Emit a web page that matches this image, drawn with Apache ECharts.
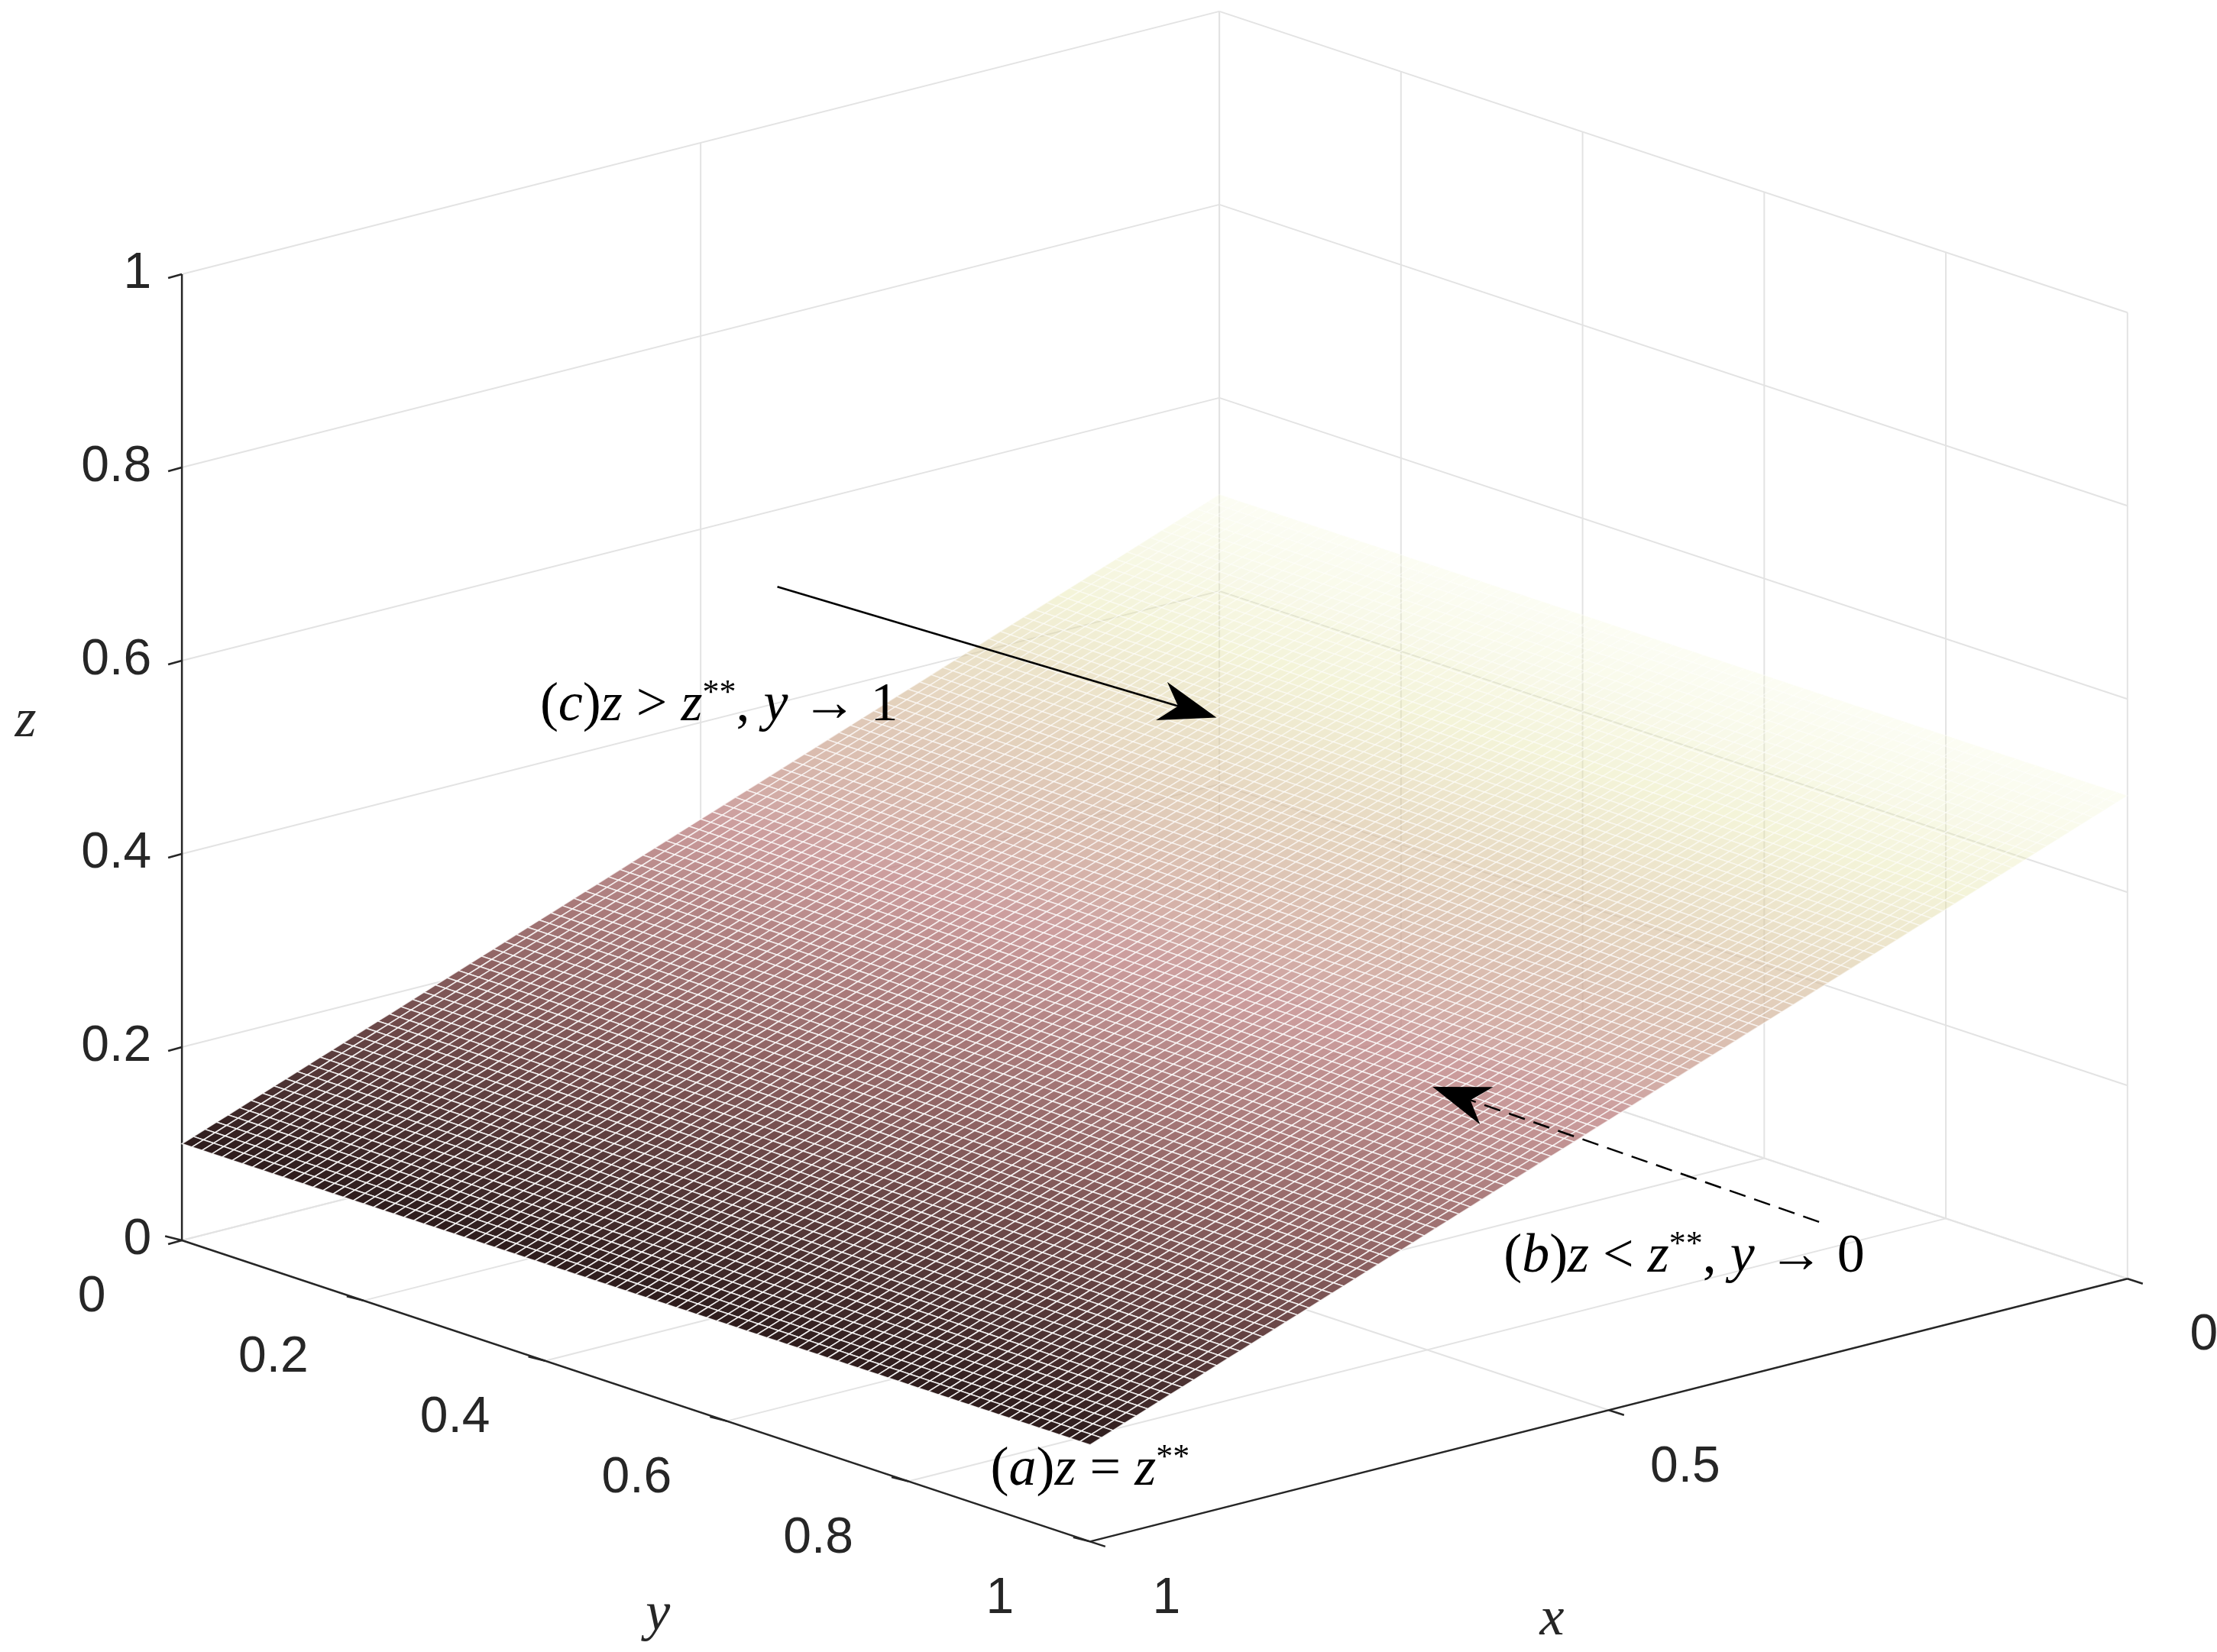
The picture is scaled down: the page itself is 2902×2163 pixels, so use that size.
<!DOCTYPE html>
<html><head><meta charset="utf-8">
<script src="https://cdn.jsdelivr.net/npm/echarts@6/dist/echarts.min.js"></script>
<style>html,body{margin:0;padding:0;background:#fff}#c{width:2902px;height:2163px}</style>
</head><body><div id="c"></div>
<script>
// ---- data ----
const xTicks = [0, 0.5, 1];
const yTicks = [0, 0.2, 0.4, 0.6, 0.8, 1];
const zTicks = [0, 0.2, 0.4, 0.6, 0.8, 1];
const xTickLabels = ['0', '0.5', '1'];
const yTickLabels = ['0', '0.2', '0.4', '0.6', '0.8', '1'];
const zTickLabels = ['0', '0.2', '0.4', '0.6', '0.8', '1'];
const surfaceX = [0, 1];        // plane end points along x
const surfaceZ = [0.5, 0.1];    // z of the plane at those x (independent of y)
const meshN = 90;

const S = 2902 / 1560;
function P(x, y, z) { return [S * (858 - 730 * x + 639 * y), S * (688 + 185 * x + 212 * y - 680 * z)]; }
function zOf(x) { return surfaceZ[0] + (surfaceZ[1] - surfaceZ[0]) * (x - surfaceX[0]) / (surfaceX[1] - surfaceX[0]); }

const cmap = [[0, [45, 28, 28]], [0.3, [140, 92, 92]], [0.5, [190, 132, 132]], [0.7, [212, 185, 150]], [0.85, [228, 228, 165]], [1, [240, 244, 200]]];
function col(t) {
  for (let i = 1; i < cmap.length; i++) if (t <= cmap[i][0]) {
    const a = cmap[i - 1], b = cmap[i], f = (t - a[0]) / (b[0] - a[0]);
    return a[1].map((v, k) => Math.round(v + (b[1][k] - v) * f));
  }
  return cmap[cmap.length - 1][1];
}

const cells = [];
for (let i = 0; i < meshN; i++) for (let j = 0; j < meshN; j++) cells.push([i, j]);

const G = [];
const gridC = '#e3e3e3', lw = 2;
function line(a, b, stroke, w, dash) { G.push({ type: 'line', shape: { x1: a[0], y1: a[1], x2: b[0], y2: b[1] }, style: { stroke: stroke, lineWidth: w, lineDash: dash || null }, z: 1 }); }
zTicks.forEach(z => { line(P(1, 0, z), P(0, 0, z), gridC, lw); line(P(0, 0, z), P(0, 1, z), gridC, lw); });
xTicks.forEach(x => { line(P(x, 0, 0), P(x, 0, 1), gridC, lw); line(P(x, 0, 0), P(x, 1, 0), gridC, lw); });
yTicks.forEach(y => { line(P(0, y, 0), P(0, y, 1), gridC, lw); line(P(0, y, 0), P(1, y, 0), gridC, lw); });
const ax = '#262626';
line(P(1, 0, 0), P(1, 0, 1), ax, 2.5);
line(P(1, 0, 0), P(1, 1, 0), ax, 2.5);
line(P(1, 1, 0), P(0, 1, 0), ax, 2.5);
const txt = [];
const tf = '66px "Liberation Sans"';
zTicks.forEach((z, i) => {
  const p = P(1, 0, z); line(p, [p[0] - 18, p[1] + 5], ax, 2.5);
  txt.push({ type: 'text', x: p[0] - 40, y: p[1], style: { text: zTickLabels[i], font: tf, fill: '#262626', align: 'right', verticalAlign: 'middle' } });
});
yTicks.forEach((y, i) => {
  const p = P(1, y, 0); line(p, [p[0] - 22, p[1] - 5.5], ax, 2.5);
  txt.push({ type: 'text', x: p[0] - 118, y: p[1] + 75, style: { text: yTickLabels[i], font: tf, fill: '#262626', align: 'center', verticalAlign: 'middle' } });
});
xTicks.forEach((x, i) => {
  const p = P(x, 1, 0); line(p, [p[0] + 20, p[1] + 6.5], ax, 2.5);
  txt.push({ type: 'text', x: p[0] + 100, y: p[1] + 75, style: { text: xTickLabels[i], font: tf, fill: '#262626', align: 'center', verticalAlign: 'middle' } });
});
const it = '72px "Liberation Serif"';
txt.push({ type: 'text', x: 18 * S, y: 508 * S, style: { text: 'z', font: 'italic ' + it, fill: '#262626', align: 'center', verticalAlign: 'middle' } });
txt.push({ type: 'text', x: 463 * S, y: 1137 * S, style: { text: 'y', font: 'italic ' + it, fill: '#262626', align: 'center', verticalAlign: 'middle' } });
txt.push({ type: 'text', x: 1092 * S, y: 1140 * S, style: { text: 'x', font: 'italic ' + it, fill: '#262626', align: 'center', verticalAlign: 'middle' } });
const rich = { n: { font: it, fill: '#000' }, i: { font: 'italic ' + it, fill: '#000' }, s: { font: '44px "Liberation Serif"', fill: '#000', verticalAlign: 'top', padding: [0, 0, 32, 0] } };
function ann(x, y, t) { txt.push({ type: 'text', x: x * S, y: y * S, style: { text: t, rich: rich, align: 'left', verticalAlign: 'middle' }, z: 20 }); }
ann(380, 497, '{n|(}{i|c}{n|)}{i|z}{n| > }{i|z}{s|**}{n|, }{i|y}{n| → 1}');
ann(1058, 885, '{n|(}{i|b}{n|)}{i|z}{n| < }{i|z}{s|**}{n|, }{i|y}{n| → 0}');
ann(697, 1035, '{n|(}{i|a}{n|)}{i|z}{n| = }{i|z}{s|**}');
function arrow(a, b, dash) {
  const A = [a[0] * S, a[1] * S], B = [b[0] * S, b[1] * S];
  const dx = B[0] - A[0], dy = B[1] - A[1], L = Math.hypot(dx, dy), ux = dx / L, uy = dy / L;
  const hl = 75, hw = 26;
  const base = [B[0] - ux * hl, B[1] - uy * hl], notch = [B[0] - ux * hl * 0.7, B[1] - uy * hl * 0.7];
  G.push({ type: 'line', shape: { x1: A[0], y1: A[1], x2: notch[0], y2: notch[1] }, style: { stroke: '#000', lineWidth: 2.5, lineDash: dash ? [22, 12] : null }, z: 20 });
  G.push({ type: 'polygon', shape: { points: [B, [base[0] - uy * hw, base[1] + ux * hw], notch, [base[0] + uy * hw, base[1] - ux * hw]] }, style: { fill: '#000' }, z: 20 });
}
arrow([547, 413], [856, 505], false);
arrow([1280, 860], [1008, 765], true);

const chart = echarts.init(document.getElementById('c'));
chart.setOption({
  animation: false,
  graphic: G.concat(txt),
  series: [{
    type: 'custom', coordinateSystem: 'none', data: cells, z: 10,
    renderItem: function (params, api) {
      const i = api.value(0), j = api.value(1);
      const x0 = i / meshN, x1 = (i + 1) / meshN, y0 = j / meshN, y1 = (j + 1) / meshN;
      const pts = [P(x0, y0, zOf(x0)), P(x1, y0, zOf(x1)), P(x1, y1, zOf(x1)), P(x0, y1, zOf(x0))];
      const zm = zOf((x0 + x1) / 2);
      const t = (zm - 0.1) / 0.4;
      const c = col(t);
      const alpha = 1 - 0.8 * Math.pow(t, 2);
      return { type: 'polygon', shape: { points: pts },
        style: { fill: 'rgba(' + c.join(',') + ',' + alpha + ')', stroke: 'rgba(255,255,255,' + (0.75 * alpha + 0.1) + ')', lineWidth: 1.6 } };
    }
  }]
});
</script></body></html>
